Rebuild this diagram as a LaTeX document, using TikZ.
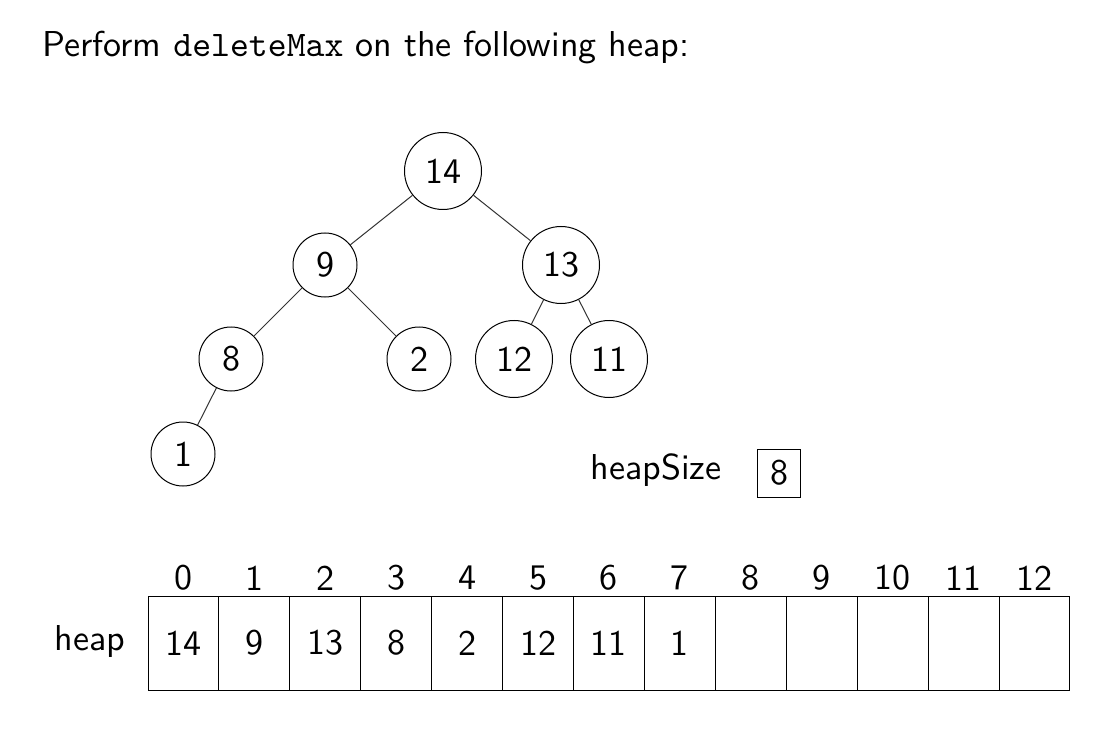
\documentclass[tikz,border=0pt]{standalone}
\usepackage{fontspec}
\setsansfont{lmsans10-regular.otf}
\setmonofont{lmmono10-regular.otf}
\begin{document}
\begin{tikzpicture}[x=1pt,y=-1pt,
  big/.style={font=\sffamily\fontsize{36}{42}\selectfont},
  sm/.style={circle,draw,line width=1pt,minimum size=64pt,inner sep=0pt,big},
  bg/.style={circle,draw,line width=1pt,minimum size=77pt,inner sep=0pt,big},
  edge/.style={draw=black!80,line width=1pt},
  cell/.style={draw,line width=1pt,minimum width=70.92pt,minimum height=94pt,inner sep=0pt,big},
  idx/.style={inner sep=0pt,big}]
\useasboundingbox (0,0) rectangle (1098,738);
\node[anchor=base west,inner sep=0pt,big] (title) at (42,57)
  {Perform \texttt{deleteMax} on the following heap:};
% tree
\node[bg] (n14) at (443,171) {14};
\node[sm] (n9) at (325,265) {9};
\node[bg] (n13) at (561,265) {13};
\node[sm] (n8) at (231,359) {8};
\node[sm] (n2) at (419,359) {2};
\node[bg] (n12) at (514,359) {12};
\node[bg] (n11) at (609,359) {11};
\node[sm] (n1) at (183,454) {1};
\draw[edge] (n14) -- (n9);
\draw[edge] (n14) -- (n13);
\draw[edge] (n9) -- (n8);
\draw[edge] (n9) -- (n2);
\draw[edge] (n13) -- (n12);
\draw[edge] (n13) -- (n11);
\draw[edge] (n8) -- (n1);
% heapSize
\node[inner sep=0pt,big] (hs) at (656,470) {heapSize};
\node[draw,line width=1pt,minimum width=43pt,minimum height=48pt,inner sep=0pt,big] (hsv) at (779,473) {8};
% array
\node[inner sep=0pt,big] (heaplbl) at (90,641) {heap};
\foreach \i/\v in {0/14,1/9,2/13,3/8,4/2,5/12,6/11,7/1,8/,9/,10/,11/,12/} {
  \node[cell] (c\i) at ({148+35.46+70.92*\i},643) {\v};
  \node[idx] (i\i) at ({148+35.46+70.92*\i},578) {\i};
}
\end{tikzpicture}
\end{document}
